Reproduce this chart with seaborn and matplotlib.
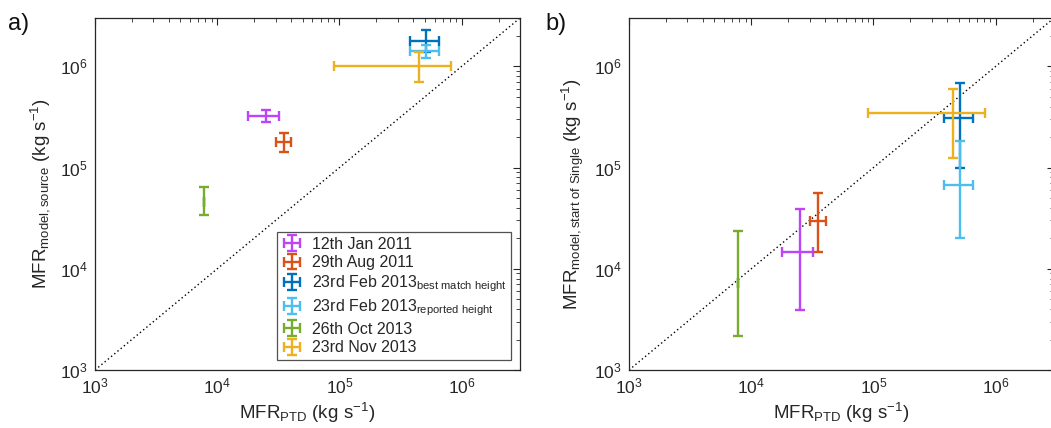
import numpy as np
import matplotlib
matplotlib.use("Agg")
import matplotlib.pyplot as plt
import seaborn as sns
import pandas as pd

# ---------------- data ----------------
events = ["12th Jan 2011", "29th Aug 2011",
          "23rd Feb 2013$_{\\mathrm{best\\ match\\ height}}$",
          "23rd Feb 2013$_{\\mathrm{reported\\ height}}$",
          "26th Oct 2013", "23rd Nov 2013"]
colors = ["#BD45F7", "#D95319", "#0072BD", "#4DBEEE", "#77AC30", "#EDB120"]

# x: MFR_PTD (same in both panels)
ptd_x = [2.5e4, 3.5e4, 5.1e5, 5.1e5, 7.8e3, 4.5e5]
ptd_lo = [1.78e4, 3.0e4, 3.8e5, 3.8e5, 7.8e3, 9.1e4]
ptd_hi = [3.2e4, 4.05e4, 6.5e5, 6.5e5, 7.8e3, 8.2e5]

# panel a: MFR_model,source
src_y = [3.2e5, 1.77e5, 1.78e6, 1.41e6, 4.6e4, 1.0e6]
src_lo = [2.8e5, 1.43e5, 1.40e6, 1.22e6, 3.4e4, 7.0e5]
src_hi = [3.7e5, 2.2e5, 2.3e6, 1.61e6, 6.4e4, 1.39e6]

# panel b: MFR_model,start of Single
sos_y = [1.47e4, 2.94e4, 3.12e5, 6.65e4, 7.2e3, 3.42e5]
sos_lo = [3.9e3, 1.45e4, 9.9e4, 2.02e4, 2.18e3, 1.24e5]
sos_hi = [3.88e4, 5.6e4, 6.86e5, 1.82e5, 2.36e4, 6.0e5]

one_to_one = [1e3, 3e6]

# ---------------- style ----------------
sns.set_theme(style="white")
plt.rcParams["font.family"] = ["Liberation Sans", "DejaVu Sans"]
plt.rcParams["mathtext.fontset"] = "custom"
plt.rcParams["mathtext.rm"] = "Liberation Sans"
plt.rcParams["mathtext.it"] = "Liberation Sans:italic"
plt.rcParams["mathtext.bf"] = "Liberation Sans:bold"
plt.rcParams["mathtext.default"] = "regular"

fig = plt.figure(figsize=(10.51, 4.28), dpi=100)
axw, axh = 0.4044, 0.8224
ax_a = fig.add_axes([0.0904, 0.1355, axw, axh])
ax_b = fig.add_axes([0.5985, 0.1355, axw, axh])


def draw(ax, yv, ylo, yhi, ylabel):
    line_df = pd.DataFrame({"x": one_to_one, "y": one_to_one})
    sns.lineplot(data=line_df, x="x", y="y", ax=ax, color="black",
                 linestyle=(0, (1, 2)), linewidth=1.0, zorder=1)
    handles = []
    for i, name in enumerate(events):
        xerr = [[ptd_x[i] - ptd_lo[i]], [ptd_hi[i] - ptd_x[i]]]
        yerr = [[yv[i] - ylo[i]], [yhi[i] - yv[i]]]
        h = ax.errorbar([ptd_x[i]], [yv[i]], xerr=xerr, yerr=yerr,
                        fmt="none", ecolor=colors[i], elinewidth=1.7,
                        capsize=3.5, capthick=1.7, label=name, zorder=3)
        handles.append(h)
    ax.set_xscale("log")
    ax.set_yscale("log")
    ax.set_xlim(1e3, 3e6)
    ax.set_ylim(1e3, 3e6)
    ax.set_xticks([1e3, 1e4, 1e5, 1e6])
    ax.set_yticks([1e3, 1e4, 1e5, 1e6])
    ax.tick_params(which="both", direction="in", top=True, right=True,
                   labelsize=12.5, colors="#262626", pad=5)
    ax.tick_params(which="major", length=5, width=0.8)
    ax.tick_params(which="minor", length=2.8, width=0.6)
    for s in ax.spines.values():
        s.set_color("#262626")
        s.set_linewidth(0.9)
    ax.set_xlabel("MFR$_{\\mathrm{PTD}}$ (kg s$^{\\mathrm{-1}}$)", fontsize=13.5,
                  color="#262626", labelpad=3)
    ax.set_ylabel(ylabel, fontsize=13.5, color="#262626", labelpad=6)
    ax.grid(False)
    return handles


handles = draw(ax_a, src_y, src_lo, src_hi,
               "MFR$_{\\mathrm{model,source}}$ (kg s$^{\\mathrm{-1}}$)")
draw(ax_b, sos_y, sos_lo, sos_hi,
     "MFR$_{\\mathrm{model,start\\ of\\ Single}}$ (kg s$^{\\mathrm{-1}}$)")

leg = ax_a.legend(handles=handles, loc="lower right", fontsize=11.5,
                  frameon=True, fancybox=False, edgecolor="#262626",
                  borderpad=0.3, labelspacing=0.22, handlelength=1.3,
                  handletextpad=0.6, borderaxespad=0,
                  bbox_to_anchor=(0.979, 0.028))
leg.get_frame().set_linewidth(0.9)

fig.text(0.008, 0.93, "a)", fontsize=17, color="#111111")
fig.text(0.519, 0.93, "b)", fontsize=17, color="#111111")

fig.savefig("out.png", dpi=100)
